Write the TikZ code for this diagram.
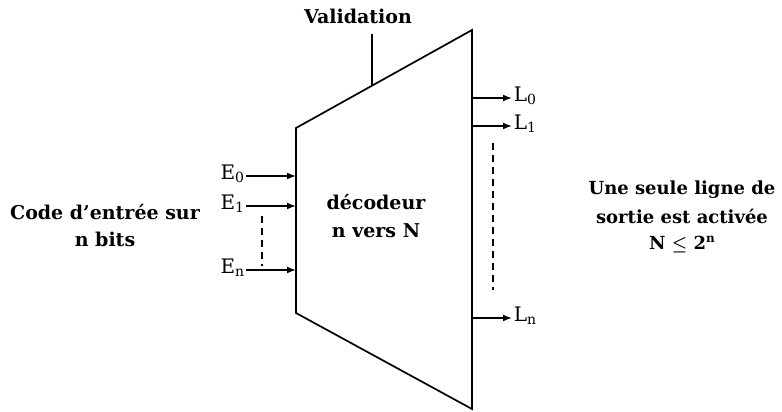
\documentclass[tikz,border=0pt]{standalone}
\usepackage{amsmath,amssymb}
\usepackage{fontspec}
\setmainfont{DejaVu Serif}
\usepackage{tikz}
\usetikzlibrary{arrows.meta}
\usetikzlibrary{positioning}

\newcommand{\idx}[1]{\raisebox{-0.28ex}{\fontsize{14}{14}\selectfont #1}}

\begin{document}
\begin{tikzpicture}[x=1pt,y=-1pt,>={Latex[length=9pt,width=7pt]},line width=1.7pt,font=\fontsize{19}{23}\selectfont]
      \tikzset{txt/.style={font=\fontsize{19}{23}\selectfont\bfseries,align=center,inner sep=0pt}}
      \tikzset{lbl/.style={font=\fontsize{20}{24}\selectfont,inner sep=1pt}}
      \useasboundingbox (0,0) rectangle (782,412);
      % trapeze du decodeur
      \coordinate (tl) at (296,128);
      \coordinate (tr) at (472,30);
      \coordinate (br) at (472,409);
      \coordinate (bl) at (296,313);
      \draw (tl) -- (tr) -- (br) -- (bl) -- cycle;
      \node[txt] (dec) at (376,216) {décodeur\\[5pt]n vers N};
      % validation
      \node[txt] (val) at (358,16) {Validation};
      \coordinate (v) at (372,86);
      \coordinate (vtop) at (372,34);
      \draw (v) -- (vtop);
      % entrees
      \node[lbl,anchor=east] (e0) at (246,174) {E\idx{0}};
      \node[lbl,anchor=east] (e1) at (246,204) {E\idx{1}};
      \node[lbl,anchor=east] (en) at (246,268) {E\idx{n}};
      \path[->] (e0.east |- 0,176) edge (tl |- 0,176);
      \path[->] (e1.east |- 0,206) edge (tl |- 0,206);
      \path[->] (en.east |- 0,270) edge (tl |- 0,270);
      \coordinate (d1) at (262,216);
      \coordinate (d2) at (262,266);
      \draw[dashed,line width=1.4pt,dash pattern=on 7pt off 5pt] (d1) -- (d2);
      \node[txt] (code) at (105,226) {Code d'entrée sur\\[4pt]n bits};
      % sorties
      \node[lbl,anchor=west] (l0) at (512,96) {L\idx{0}};
      \node[lbl,anchor=west] (l1) at (512,124) {L\idx{1}};
      \node[lbl,anchor=west] (ln) at (512,316) {L\idx{n}};
      \path[->] (tr |- 0,98) edge (l0.west |- 0,98);
      \path[->] (tr |- 0,126) edge (l1.west |- 0,126);
      \path[->] (tr |- 0,318) edge (ln.west |- 0,318);
      \coordinate (d3) at (493,143);
      \coordinate (d4) at (493,290);
      \draw[dashed,line width=1.4pt,dash pattern=on 7pt off 5pt] (d3) -- (d4);
      \node[txt,font=\fontsize{18}{22}\selectfont\bfseries] (out) at (682,217) {Une seule ligne de\\[7pt]sortie est activée\\[4pt]N {\boldmath$\leq$} 2\raisebox{0.8ex}{\fontsize{12}{12}\selectfont n}};
\end{tikzpicture}
\end{document}
